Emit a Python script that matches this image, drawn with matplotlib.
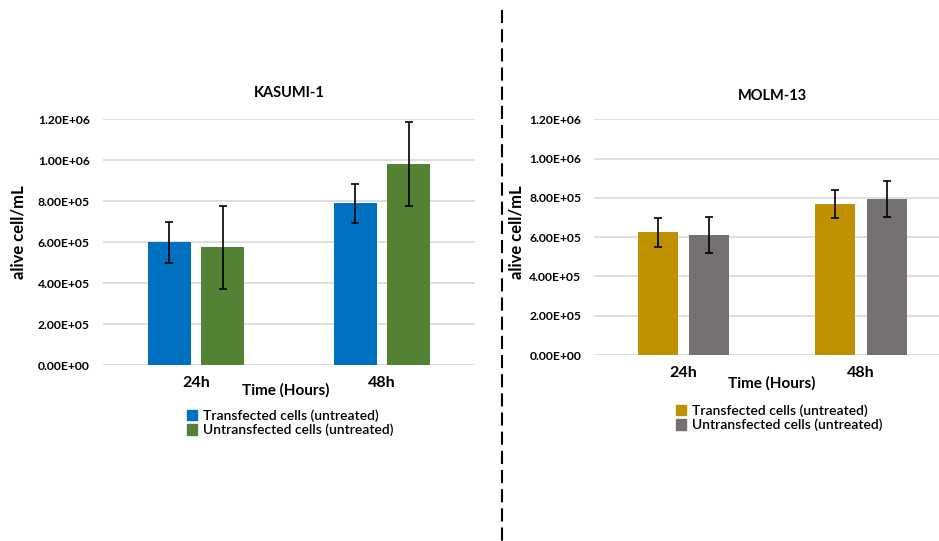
import numpy as np
import matplotlib.pyplot as plt
from matplotlib.lines import Line2D
from matplotlib.ticker import FuncFormatter

plt.rcParams['font.family'] = ['Lato', 'DejaVu Sans']

times = ['24h', '48h']
series = ['Transfected cells (untreated)', 'Untransfected cells (untreated)']

kasumi_transfected = [6.0e5, 7.9e5]
kasumi_transfected_err = [1.0e5, 9.6e4]
kasumi_untransfected = [5.75e5, 9.82e5]
kasumi_untransfected_err = [2.03e5, 2.06e5]

molm_transfected = [6.25e5, 7.7e5]
molm_transfected_err = [7.3e4, 7.2e4]
molm_untransfected = [6.1e5, 7.95e5]
molm_untransfected_err = [9.2e4, 9.1e4]

yticks = [0, 2e5, 4e5, 6e5, 8e5, 1.0e6, 1.2e6]


def sci(v, pos):
    return '%.2E' % v


def panel(ax, title, vals, errs, colors, width, offset, title_pad, xlab_y, xlab_x):
    x = np.arange(len(times))
    for i, (v, e, c) in enumerate(zip(vals, errs, colors)):
        ax.bar(x + (i - 0.5) * 2 * offset, v, width, color=c, zorder=2)
        ax.errorbar(x + (i - 0.5) * 2 * offset, v, yerr=e, fmt='none',
                    ecolor='black', elinewidth=1.2, capsize=3, capthick=1.2, zorder=3)
    ax.set_xlim(-0.5, 1.5)
    ax.set_ylim(0, 1.2e6)
    ax.set_yticks(yticks)
    ax.yaxis.set_major_formatter(FuncFormatter(sci))
    ax.grid(axis='y', color='#d9d9d9', linewidth=1.2, zorder=0)
    ax.set_axisbelow(True)
    for s in ax.spines.values():
        s.set_visible(False)
    ax.tick_params(axis='y', length=0, pad=9.5, labelsize=8.7)
    ax.tick_params(axis='x', length=0, pad=8, labelsize=11.5)
    ax.set_xticks(x)
    ax.set_xticklabels(times, fontweight='bold')
    for lab in ax.get_yticklabels():
        lab.set_fontweight('bold')
    ax.set_title(title, fontsize=10.5, fontweight='bold', pad=title_pad)
    ax.text(xlab_x, xlab_y, 'Time (Hours)', transform=ax.transAxes,
            ha='center', va='center', fontsize=11, fontweight='bold')


fig = plt.figure(figsize=(9.39, 5.41), dpi=100)

ax1 = fig.add_axes([103 / 939, 1 - 365 / 541, (475 - 103) / 939, (365 - 119.3) / 541])
panel(ax1, 'KASUMI-1', [kasumi_transfected, kasumi_untransfected],
      [kasumi_transfected_err, kasumi_untransfected_err],
      ['#0070c0', '#548235'], 0.231, 0.1425, 16, -0.105, 0.49)

ax2 = fig.add_axes([594.4 / 939, 1 - 355 / 541, (950 - 594.4) / 939, (355 - 119.3) / 541])
panel(ax2, 'MOLM-13', [molm_transfected, molm_untransfected],
      [molm_transfected_err, molm_untransfected_err],
      ['#bf9000', '#767171'], 0.225, 0.144, 14, -0.12, 0.50)

# y axis titles
fig.text(19 / 939, 1 - 232 / 541, 'alive cell/mL', rotation=90, ha='center', va='center',
         fontsize=12, fontweight='bold')
fig.text(517 / 939, 1 - 232 / 541, 'alive cell/mL', rotation=90, ha='center', va='center',
         fontsize=12, fontweight='bold')

# legends below each panel
for lx, ly, colors in [(187 / 939, 1 - 423 / 541, ['#0070c0', '#548235']),
                       (676 / 939, 1 - 418 / 541, ['#bf9000', '#767171'])]:
    handles = [plt.Rectangle((0, 0), 1, 1, color=c) for c in colors]
    fig.legend(handles, series, loc='center left', bbox_to_anchor=(lx, ly),
               frameon=False, prop={'size': 10, 'weight': 'semibold'},
               handlelength=0.75, handleheight=0.75,
               handletextpad=0.4, labelspacing=0.1, borderpad=0, borderaxespad=0)

# dashed separator between the two panels
fig.add_artist(Line2D([502 / 939, 502 / 939], [1 - 10 / 541, 0], color='black',
                      linewidth=1.5, linestyle=(0, (6.3, 2.9))))

fig.savefig('out.png', dpi=100)
